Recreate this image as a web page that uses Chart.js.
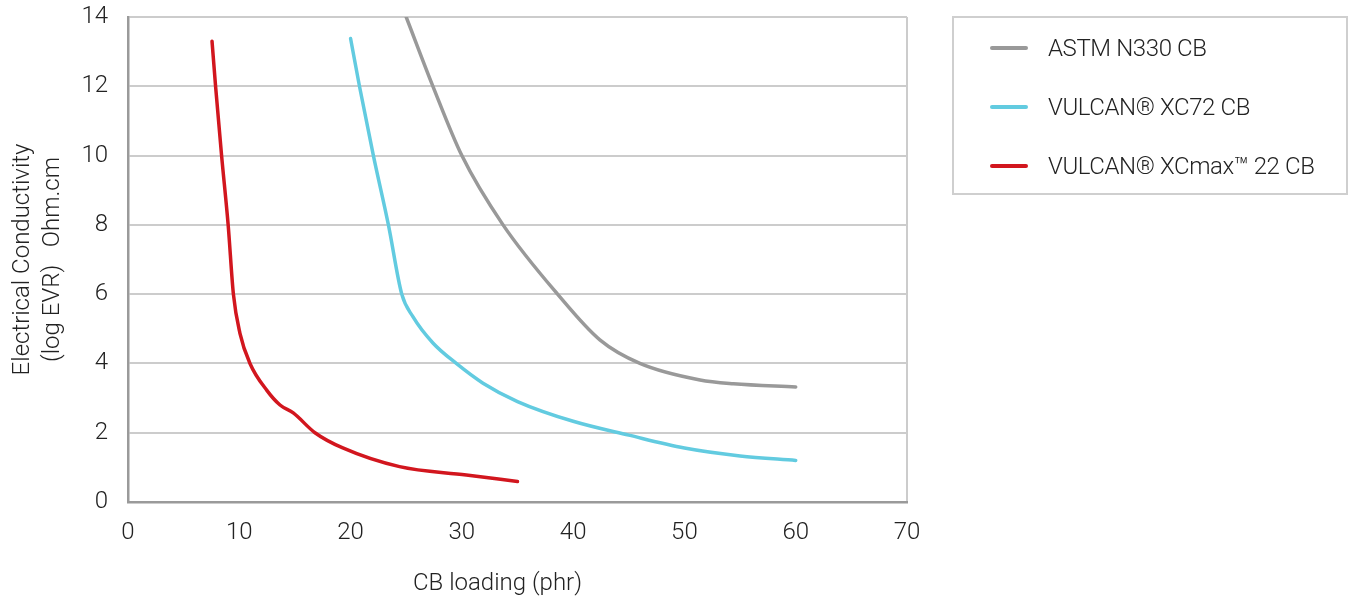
<!DOCTYPE html>
<html>
<head>
<meta charset="utf-8">
<script src="https://cdn.jsdelivr.net/npm/chart.js@4"></script>
<style>
  body { margin: 0; background: #fff; font-family: Roboto, sans-serif; }
  #wrap { position: absolute; left: 0; top: 0; width: 1352px; height: 601px; }
  #legend {
    position: absolute; left: 952px; top: 16px; width: 392px; height: 175px;
    border: 2px solid #cfcfcf; box-sizing: content-box;
  }
  .item { position: absolute; left: 36px; height: 30px; display: flex; align-items: center; }
  .swatch { width: 38px; height: 4px; border-radius: 2px; margin-right: 20px; }
  .lbl { font-size: 24px; font-weight: 300; color: #222; white-space: nowrap; letter-spacing: -0.4px; }
</style>
</head>
<body>
<div id="wrap"><canvas id="chart" width="1352" height="601"></canvas></div>
<div id="legend"></div>
<script>
// data
const seriesNames = ['ASTM N330 CB', 'VULCAN\u00AE XC72 CB', 'VULCAN\u00AE XCmax\u2122 22 CB'];
const seriesColors = ['#999999', '#62cbe0', '#d2161e'];
const xTitle = 'CB loading (phr)';

const n330X = [25, 27.4, 30, 33.7, 38.6, 42.4, 46, 51.4, 54.4, 60];
const n330Y = [14, 12, 10, 8, 6, 4.68, 4, 3.52, 3.41, 3.32];

const xc72X = [20, 20.8, 22.05, 23.4, 24.6, 25.6, 27.4, 29.5, 31.9, 35, 40, 45, 50, 55, 60];
const xc72Y = [13.38, 12, 10, 8, 6, 5.35, 4.59, 4, 3.43, 2.9, 2.33, 1.93, 1.56, 1.33, 1.2];

const xcmaxX = [7.55, 7.87, 8.41, 9.0, 9.47, 10.06, 10.96, 12.46, 13.66, 14.85, 16.8, 19.3, 24.4, 30.4, 35];
const xcmaxY = [13.3, 12, 10, 8, 6, 4.87, 4, 3.23, 2.8, 2.57, 2, 1.56, 1.02, 0.78, 0.59];

const xTicks = [0, 10, 20, 30, 40, 50, 60, 70];
const yTicks = [0, 2, 4, 6, 8, 10, 12, 14];

function pts(xs, ys) {
    return xs.map((x, i) => ({x: x, y: ys[i]}));
}

const seriesData = [pts(n330X, n330Y), pts(xc72X, xc72Y), pts(xcmaxX, xcmaxY)];

const font = {family: 'Roboto', size: 24, weight: '300'};

// x title sits a little left of the plot centre in the original
const xTitlePlugin = {
    id: 'xTitle',
    afterDraw(chart) {
        const ctx = chart.ctx;
        const a = chart.chartArea;
        ctx.save();
        ctx.font = '300 24px Roboto';
        ctx.fillStyle = '#222';
        ctx.textAlign = 'center';
        ctx.textBaseline = 'middle';
        ctx.fillText(xTitle, (a.left + a.right) / 2 - 20, a.bottom + 82);
        ctx.restore();
    }
};

new Chart(document.getElementById('chart').getContext('2d'), {
    type: 'line',
    data: {
        datasets: seriesNames.map((name, i) => ({
            label: name,
            data: seriesData[i],
            borderColor: seriesColors[i],
            borderWidth: 3.5,
            pointRadius: 0,
            borderCapStyle: 'round',
            cubicInterpolationMode: 'monotone',
            fill: false
        }))
    },
    options: {
        responsive: false,
        animation: false,
        layout: {padding: {left: 0, top: 0, right: 445, bottom: 0}},
        plugins: {legend: {display: false}, tooltip: {enabled: false}},
        scales: {
            x: {
                type: 'linear',
                min: 0, max: 70,
                afterBuildTicks: s => { s.ticks = xTicks.map(v => ({value: v})); },
                afterFit: s => { s.height = 99; },
                border: {color: '#9a9a9a', width: 2.5},
                grid: {
                    drawTicks: false,
                    color: c => c.tick && c.tick.value === 70 ? '#cccccc' : 'rgba(0,0,0,0)',
                    lineWidth: 2
                },
                ticks: {font: font, color: '#222', padding: 17, maxRotation: 0}
            },
            y: {
                type: 'linear',
                min: 0, max: 14,
                afterBuildTicks: s => { s.ticks = yTicks.map(v => ({value: v})); },
                afterFit: s => { s.width = 128; s.paddingTop = 17; s.paddingBottom = 0; },
                border: {color: '#9a9a9a', width: 2.5},
                grid: {drawTicks: false, color: '#cccccc', lineWidth: 2},
                ticks: {font: font, color: '#222', padding: 20},
                title: {
                    display: true,
                    text: ['Electrical Conductivity', '(log EVR)   Ohm.cm'],
                    font: Object.assign({lineHeight: 1.25}, font),
                    color: '#222',
                    padding: {top: 8, bottom: 0}
                }
            }
        }
    },
    plugins: [xTitlePlugin]
});

// html legend built from the series arrays
const legend = document.getElementById('legend');
const rowTops = [15, 74, 133];
seriesNames.forEach((name, i) => {
    const item = document.createElement('div');
    item.className = 'item';
    item.style.top = rowTops[i] + 'px';
    item.innerHTML = '<div class="swatch" style="background:' + seriesColors[i] + '"></div>' +
        '<span class="lbl">' + name + '</span>';
    legend.appendChild(item);
});
</script>
</body>
</html>
